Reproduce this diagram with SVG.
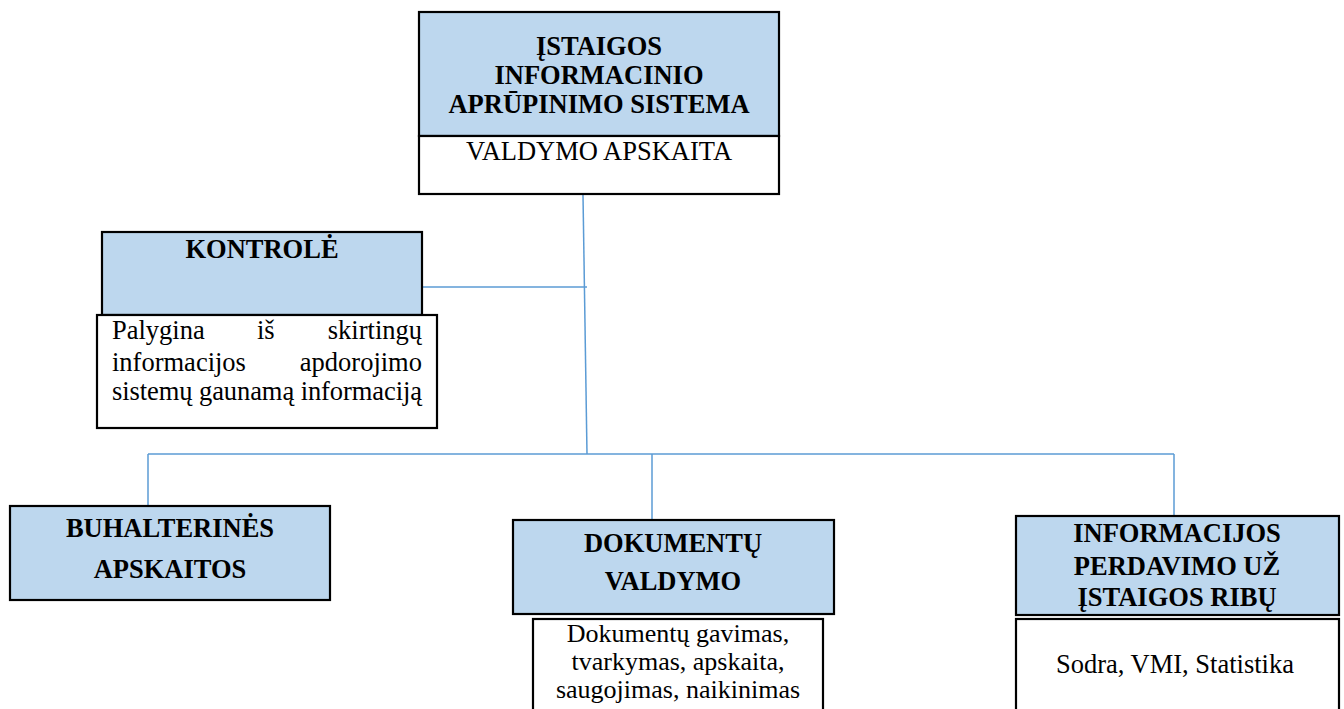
<svg xmlns="http://www.w3.org/2000/svg" width="1344" height="709" viewBox="0 0 1344 709">
<style>
.hd{fill:#BDD7EE;stroke:#000;stroke-width:2.2}
.wb{fill:#FFFFFF;stroke:#000;stroke-width:2.2}
text{font-family:'Liberation Serif','Times New Roman','DejaVu Serif',serif;font-size:26.5px;fill:#000}
.b{font-weight:bold;text-anchor:middle}
.r{text-anchor:middle}
.c{fill:none;stroke:#5B9BD5;stroke-width:1.5}
</style>
<rect width="1344" height="709" fill="#FFFFFF"/>
<g id="connectors">
<path class="c" d="M583,195 L587,454"/>
<path class="c" d="M422,287 L587,287"/>
<path class="c" d="M148,454 L1174,454"/>
<path class="c" d="M148,454 L148,506"/>
<path class="c" d="M652,454 L652,520"/>
<path class="c" d="M1174,454 L1174,516"/>
<path class="c" d="M108,311 L123,308"/>
<path class="c" d="M103,352 L120,350"/>
</g>
<g id="node-top">
<rect class="hd" x="419" y="12" width="360" height="124"/>
<rect class="wb" x="419" y="136" width="360" height="58"/>
<text class="b" x="599" y="55">ĮSTAIGOS</text>
<text class="b" x="599" y="84">INFORMACINIO</text>
<text class="b" x="599" y="113">APRŪPINIMO SISTEMA</text>
<text class="r" x="599" y="160">VALDYMO APSKAITA</text>
</g>
<g id="node-kontrole">
<rect class="hd" x="102" y="232" width="320" height="83"/>
<text class="b" x="262" y="258">KONTROLĖ</text>
<rect class="wb" x="97" y="315" width="340" height="113"/>
<text x="112" y="339">Palygina</text>
<text x="257" y="339">iš</text>
<text x="422" y="339" text-anchor="end">skirtingų</text>
<text x="112" y="371">informacijos</text>
<text x="422" y="371" text-anchor="end">apdorojimo</text>
<text x="112" y="400" textLength="310" lengthAdjust="spacing">sistemų gaunamą informaciją</text>
</g>
<g id="node-buhalterines">
<rect class="hd" x="10" y="506" width="320" height="94"/>
<text class="b" x="170" y="537">BUHALTERINĖS</text>
<text class="b" x="170" y="578">APSKAITOS</text>
</g>
<g id="node-dokumentu">
<rect class="hd" x="513" y="520" width="321" height="94"/>
<text class="b" x="673" y="552">DOKUMENTŲ</text>
<text class="b" x="673" y="590">VALDYMO</text>
<rect class="wb" x="533" y="619" width="290" height="95"/>
<text class="r" x="678" y="642" style="font-size:26px">Dokumentų gavimas,</text>
<text class="r" x="678" y="670" style="font-size:26px">tvarkymas, apskaita,</text>
<text class="r" x="678" y="698" style="font-size:26px">saugojimas, naikinimas</text>
</g>
<g id="node-informacijos">
<rect class="hd" x="1016" y="516" width="323" height="99"/>
<text class="b" x="1177" y="542">INFORMACIJOS</text>
<text class="b" x="1177" y="575">PERDAVIMO UŽ</text>
<text class="b" x="1177" y="606">ĮSTAIGOS RIBŲ</text>
<rect class="wb" x="1016" y="619" width="323" height="95"/>
<text class="r" x="1175" y="673">Sodra, VMI, Statistika</text>
</g>
</svg>
